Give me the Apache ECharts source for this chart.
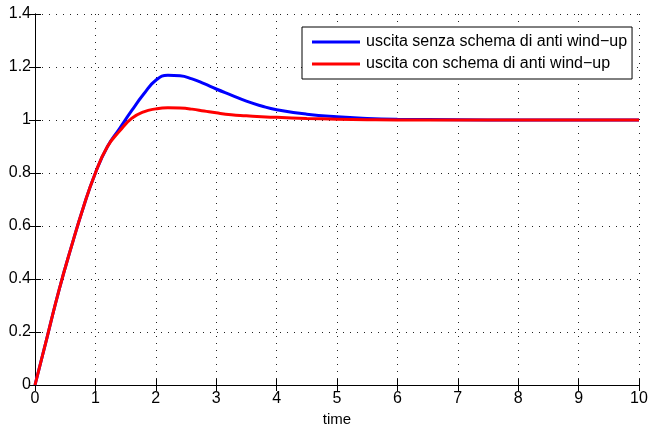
<!DOCTYPE html>
<html>
<head>
<meta charset="utf-8">
<script src="https://cdn.jsdelivr.net/npm/echarts@6/dist/echarts.min.js"></script>
<style>
  html, body { margin: 0; padding: 0; background: #fff; }
  #chart { width: 649px; height: 426px; }
</style>
</head>
<body>
<div id="chart"></div>
<script>
var myChart = echarts.init(document.getElementById('chart'));

// time samples and responses
var timeSteps  = [0, 0.2, 0.4, 0.6, 0.8, 1.0, 1.2, 1.4, 1.6, 1.8, 2.0, 2.2, 2.4, 2.6, 2.8, 3.0, 3.25, 3.5, 3.75, 4.0, 4.5, 5.0, 5.5, 6.0, 7.0, 8.0, 9.0, 10.0];
var senzaValues = [0, 0.18, 0.36, 0.52, 0.67, 0.80, 0.90, 0.968, 1.035, 1.098, 1.150, 1.169, 1.167, 1.155, 1.137, 1.117, 1.094, 1.071, 1.053, 1.039, 1.022, 1.012, 1.006, 1.003, 1.001, 1.0, 1.0, 1.0];
var conValues   = [0, 0.18, 0.36, 0.52, 0.67, 0.80, 0.90, 0.958, 1.006, 1.031, 1.042, 1.046, 1.045, 1.041, 1.034, 1.027, 1.020, 1.016, 1.012, 1.010, 1.006, 1.003, 1.001, 1.0, 1.0, 1.0, 1.0, 1.0];
var seriesNames = ['uscita senza schema di anti wind\u2212up', 'uscita con schema di anti wind\u2212up'];

function pairs(vals) {
  return timeSteps.map(function (t, i) { return [t, vals[i]]; });
}

var font = 'Liberation Sans';
var dotted = { color: '#222', width: 1, type: [1, 6] };

option = {
  animation: false,
  textStyle: { fontFamily: font },
  grid: { left: 35, right: 10, top: 14, bottom: 41, containLabel: false, outerBoundsMode: 'none' },
  legend: {
    orient: 'vertical',
    left: 302,
    top: 27,
    padding: [7, 5, 7, 10],
    icon: 'rect',
    itemWidth: 48,
    itemHeight: 3,
    itemGap: 6,
    backgroundColor: '#fff',
    borderColor: '#000',
    borderWidth: 1,
    borderRadius: 0,
    textStyle: { fontFamily: font, fontSize: 16, color: '#000', padding: [0, 0, 0, 1] },
    data: seriesNames
  },
  xAxis: [{
    type: 'value', min: 0, max: 10, interval: 1,
    name: 'time', nameLocation: 'middle', nameGap: 24,
    nameTextStyle: { fontFamily: font, fontSize: 15, color: '#000' },
    axisLine: { lineStyle: { color: '#000', width: 1 } },
    axisTick: { inside: true, length: 6, lineStyle: { color: '#000' } },
    axisLabel: { fontFamily: font, fontSize: 16, color: '#000', margin: 6 },
    splitLine: { show: true, lineStyle: dotted }
  }, {
    type: 'value', min: 0, max: 10, interval: 1, position: 'top',
    axisLine: { lineStyle: { color: '#000', width: 1 } },
    axisTick: { inside: true, length: 6, lineStyle: { color: '#000' } },
    axisLabel: { show: false },
    splitLine: { show: false }
  }],
  yAxis: [{
    type: 'value', min: 0, max: 1.4, interval: 0.2,
    axisLine: { show: true, lineStyle: { color: '#000', width: 1 } },
    axisTick: { show: true, inside: true, length: 6, lineStyle: { color: '#000' } },
    axisLabel: { fontFamily: font, fontSize: 16, color: '#000', margin: 4 },
    splitLine: { show: true, lineStyle: dotted }
  }, {
    type: 'value', min: 0, max: 1.4, interval: 0.2, position: 'right',
    axisLine: { show: true, lineStyle: { color: '#000', width: 1 } },
    axisTick: { show: true, inside: true, length: 6, lineStyle: { color: '#000' } },
    axisLabel: { show: false },
    splitLine: { show: false }
  }],
  series: [{
    name: seriesNames[0],
    type: 'line',
    data: pairs(senzaValues),
    smooth: 0.5,
    symbol: 'none',
    lineStyle: { color: '#0000ff', width: 3 },
    itemStyle: { color: '#0000ff' },
    z: 3
  }, {
    name: seriesNames[1],
    type: 'line',
    data: pairs(conValues),
    smooth: 0.5,
    symbol: 'none',
    lineStyle: { color: '#ff0000', width: 3 },
    itemStyle: { color: '#ff0000' },
    z: 4
  }]
};

myChart.setOption(option);
</script>
</body>
</html>
